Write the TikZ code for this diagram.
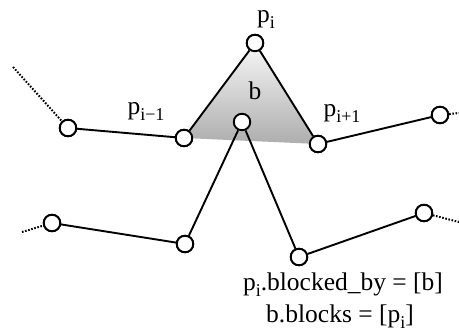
\documentclass[tikz,border=0pt]{standalone}
\usepackage{fontspec}
\setmainfont{Liberation Serif}
\newcommand\sbs[1]{\raisebox{-0.2em}{\fontsize{18}{18}\selectfont #1}}
\begin{document}
\begin{tikzpicture}[x=1pt,y=1pt,
  pt/.style={circle,draw,fill=white,line width=1.9pt,minimum size=16.5pt,inner sep=0pt},
  seg/.style={line width=1.9pt},
  dots/.style={line width=2pt,dash pattern=on 1.6pt off 1.6pt},
  lbl/.style={font=\fontsize{25.5}{28}\selectfont,inner sep=0pt,anchor=base}]
\useasboundingbox (0,0) rectangle (459,332);
% upper chain points
\coordinate (ua) at (13,265);
\node[pt] (a) at (68,204) {};
\node[pt] (pim1) at (184,194) {};
\node[pt] (pi) at (255,289) {};
\node[pt] (pip1) at (318,188) {};
\node[pt] (c) at (440,217) {};
\coordinate (uc) at (459,219);
% lower chain
\coordinate (la) at (22,100);
\node[pt] (d) at (52,109) {};
\node[pt] (e) at (185,88) {};
\node[pt] (b) at (242,210) {};
\node[pt] (f) at (299,75) {};
\node[pt] (g) at (424,119) {};
\coordinate (lg) at (459,110);
% triangle fill
\shade[top color=gray!6, bottom color=gray!64] (pim1.center) -- (pi.center) -- (pip1.center) -- cycle;
% segments
\draw[dots] (ua) -- (a);
\draw[seg] (a) -- (pim1) -- (pi) -- (pip1) -- (c);
\draw[dots] (c) -- (uc);
\draw[dots] (la) -- (d);
\draw[seg] (d) -- (e) -- (b) -- (f) -- (g);
\draw[dots] (g) -- (lg);
% redraw nodes on top
\foreach \n in {a,pim1,pi,pip1,c,d,e,b,f,g} \node[pt] at (\n) {};
% labels
\node[lbl] (lpi) at (266,309) {p\sbs{i}};
\node[lbl] (lpim1) at (146,217) {p\sbs{i−1}};
\node[lbl] (lpip1) at (342,215) {p\sbs{i+1}};
\node[lbl] (lb) at (255,232) {b};
\node[lbl] (t1) at (343,41) {p\sbs{i}.blocked\_by = [b]};
\node[lbl] (t2) at (340,9) {b.blocks = [p\sbs{i}]};
\end{tikzpicture}
\end{document}
